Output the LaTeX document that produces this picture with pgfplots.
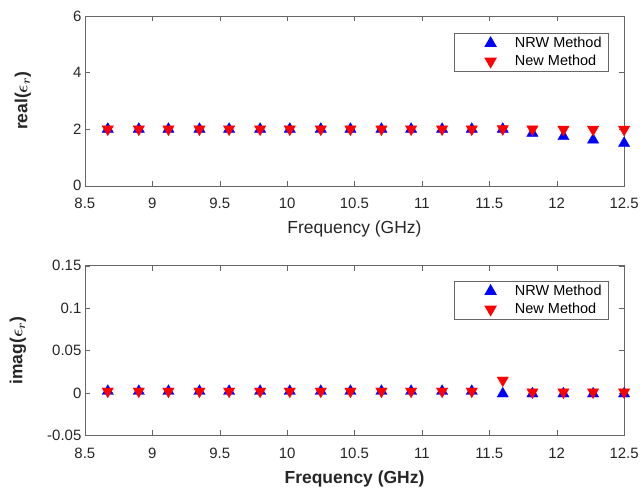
\documentclass[border=0pt]{standalone}
\usepackage{pgfplots}
\pgfplotsset{compat=1.18}
\usepackage{amsmath,bm}
\usepackage{fontspec}
\setmainfont{Liberation Sans}
\begin{document}
\begin{tikzpicture}
\pgfplotsset{
  every axis/.append style={scale only axis,width=540pt,height=170pt,
    xmin=8.5,xmax=12.5,xtick={8.5,9,...,12.5},
    tick align=inside,tick pos=both,major tick length=5pt,
    axis line style={black!60},tick style={black!60},
    tick label style={font=\fontsize{15}{17}\selectfont,text=black!85},
    xticklabel style={yshift=-9pt},
    label style={font=\fontsize{17.5}{20}\selectfont,text=black!85},
    x label style={yshift=-5pt},
    /pgf/number format/assume math mode=true,
    legend cell align=left,
    legend style={font=\fontsize{14.5}{16}\selectfont,draw=black!60,line width=0.8pt,
      anchor=north east,inner xsep=5pt,inner ysep=2pt,row sep=2pt,
      nodes={inner sep=2pt}},
    legend image code/.code={\path (-31pt,0pt) (22pt,0pt);
      \draw[#1] plot coordinates {(0pt,0pt)};}},
  nrw/.style={only marks,mark=triangle*,mark size=6.5pt,blue,mark options={draw=blue,fill=blue}},
  new/.style={only marks,mark=triangle*,mark size=6.5pt,red,mark options={draw=red,fill=red,rotate=180}}}
\path (-85pt,-52pt) rectangle (557pt,436pt);
\begin{axis}[at={(0,250pt)},ymin=0,ymax=6,ytick={0,2,4,6},
  xlabel={Frequency (GHz)},ylabel={\textbf{real(}$\bm{\epsilon}_{\bm{r}}$\textbf{)}},
  legend style={at={(0.972,0.9)}},
  y label style={at={(axis description cs:-0.115,0.5)},anchor=center}]
\addplot[nrw] coordinates {(8.67,2.0) (8.9,2.0) (9.12,2.0) (9.35,2.0) (9.57,2.0) (9.8,2.0) (10.02,2.0) (10.25,2.0) (10.47,2.0) (10.7,2.0) (10.92,2.0) (11.15,2.0) (11.37,2.0) (11.6,2.0) (11.82,1.86) (12.05,1.74) (12.27,1.62) (12.5,1.5)};
\addlegendentry{NRW Method}
\addplot[new] coordinates {(8.67,2.0) (8.9,2.0) (9.12,2.0) (9.35,2.0) (9.57,2.0) (9.8,2.0) (10.02,2.0) (10.25,2.0) (10.47,2.0) (10.7,2.0) (10.92,2.0) (11.15,2.0) (11.37,2.0) (11.6,2.01) (11.82,2.0) (12.05,1.99) (12.27,1.99) (12.5,1.99)};
\addlegendentry{New Method}
\end{axis}
\begin{axis}[at={(0,0)},ymin=-0.05,ymax=0.15,ytick={-0.05,0,0.05,0.1,0.15},
  yticklabel style={/pgf/number format/fixed,/pgf/number format/precision=2},
  xlabel={\textbf{Frequency (GHz)}},ylabel={\textbf{imag(}$\bm{\epsilon}_{\bm{r}}$\textbf{)}},
  legend style={at={(0.972,0.91)}},
  y label style={at={(axis description cs:-0.124,0.5)},anchor=center}]
\addplot[nrw] coordinates {(8.67,0.002) (8.9,0.002) (9.12,0.002) (9.35,0.002) (9.57,0.002) (9.8,0.002) (10.02,0.002) (10.25,0.002) (10.47,0.002) (10.7,0.002) (10.92,0.002) (11.15,0.002) (11.37,0.002) (11.6,-0.001) (11.82,-0.001) (12.05,-0.001) (12.27,-0.001) (12.5,-0.001)};
\addlegendentry{NRW Method}
\addplot[new] coordinates {(8.67,0.002) (8.9,0.002) (9.12,0.002) (9.35,0.002) (9.57,0.002) (9.8,0.002) (10.02,0.002) (10.25,0.002) (10.47,0.002) (10.7,0.002) (10.92,0.002) (11.15,0.002) (11.37,0.002) (11.6,0.015) (11.82,0.001) (12.05,0.001) (12.27,0.001) (12.5,0.001)};
\addlegendentry{New Method}
\end{axis}
\end{tikzpicture}
\end{document}
